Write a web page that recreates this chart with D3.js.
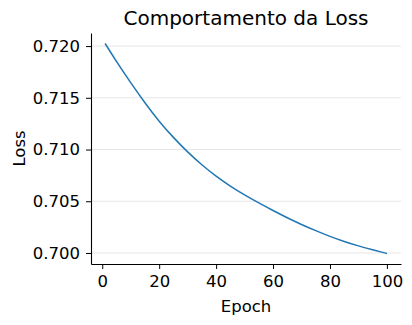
<!DOCTYPE html>
<html>
<head>
<meta charset="utf-8">
<script src="https://cdn.jsdelivr.net/npm/d3@7"></script>
<style>
  body { margin: 0; background: #fff; }
  svg { display: block; font-family: "DejaVu Sans", sans-serif; }
</style>
</head>
<body>
<div id="chart-area"></div>
<script>
// loss, one value every 5 epochs
var epochs = [1, 5, 10, 15, 20, 25, 30, 35, 40, 45, 50, 55, 60, 65, 70, 75, 80, 85, 90, 95, 100];
var losses = [0.72025, 0.71850, 0.71645, 0.71450, 0.71270, 0.71115, 0.70975, 0.70850, 0.70740,
              0.70645, 0.70560, 0.70483, 0.70410, 0.70340, 0.70275, 0.70215, 0.70160, 0.70110,
              0.70068, 0.70030, 0.69995];
var xTicks = [0, 20, 40, 60, 80, 100];
var yTicks = [0.700, 0.705, 0.710, 0.715, 0.720];

var width = 412, height = 325;
var margin = {top: 33, right: 11, bottom: 61, left: 91};
var w = width - margin.left - margin.right;
var h = height - margin.top - margin.bottom;

var svg = d3.select("#chart-area").append("svg")
  .attr("width", width)
  .attr("height", height);

var g = svg.append("g")
  .attr("transform", "translate(" + margin.left + "," + margin.top + ")");

// matplotlib style 5% padding
var xPad = (d3.max(epochs) - d3.min(epochs)) * 0.05;
var yPad = (d3.max(losses) - d3.min(losses)) * 0.05;
var x = d3.scaleLinear().domain([d3.min(epochs) - xPad, d3.max(epochs) + xPad]).range([0, w]);
var y = d3.scaleLinear().domain([d3.min(losses) - yPad, d3.max(losses) + yPad]).range([h, 0]);

// grid
g.append("g").selectAll("line").data(yTicks).enter().append("line")
  .attr("x1", 0).attr("x2", w)
  .attr("y1", function(d) { return y(d); })
  .attr("y2", function(d) { return y(d); })
  .attr("stroke", "#e6e6e6")
  .attr("stroke-width", 1);

var data = epochs.map(function(e, i) { return {epoch: e, loss: losses[i]}; });

var line = d3.line()
  .x(function(d) { return x(d.epoch); })
  .y(function(d) { return y(d.loss); })
  .curve(d3.curveBasis);

g.append("path")
  .datum(data)
  .attr("fill", "none")
  .attr("stroke", "#1f77b4")
  .attr("stroke-width", 1.5)
  .attr("d", line);

var xAxis = d3.axisBottom(x).tickValues(xTicks).tickSize(5).tickPadding(6).tickSizeOuter(0);
var yAxis = d3.axisLeft(y).tickValues(yTicks).tickSize(5).tickPadding(6).tickSizeOuter(0)
  .tickFormat(d3.format(".3f"));

var gx = g.append("g")
  .attr("transform", "translate(0," + h + ")")
  .call(xAxis);
var gy = g.append("g").call(yAxis);

[gx, gy].forEach(function(ax) {
  ax.select(".domain").attr("stroke", "#000").attr("stroke-width", 1.1);
  ax.selectAll(".tick line").attr("stroke", "#000").attr("stroke-width", 1);
  ax.selectAll(".tick text")
    .attr("font-size", "16.5px")
    .attr("font-family", "DejaVu Sans, sans-serif")
    .attr("fill", "#000");
});

// titles
svg.append("text")
  .attr("x", margin.left + w / 2)
  .attr("y", 25)
  .attr("text-anchor", "middle")
  .attr("font-size", "20px")
  .attr("fill", "#000")
  .text("Comportamento da Loss");

svg.append("text")
  .attr("x", margin.left + w / 2)
  .attr("y", 312)
  .attr("text-anchor", "middle")
  .attr("font-size", "16.5px")
  .attr("fill", "#000")
  .text("Epoch");

svg.append("text")
  .attr("transform", "translate(25," + (margin.top + h / 2) + ") rotate(-90)")
  .attr("text-anchor", "middle")
  .attr("font-size", "16.5px")
  .attr("fill", "#000")
  .text("Loss");
</script>
</body>
</html>
